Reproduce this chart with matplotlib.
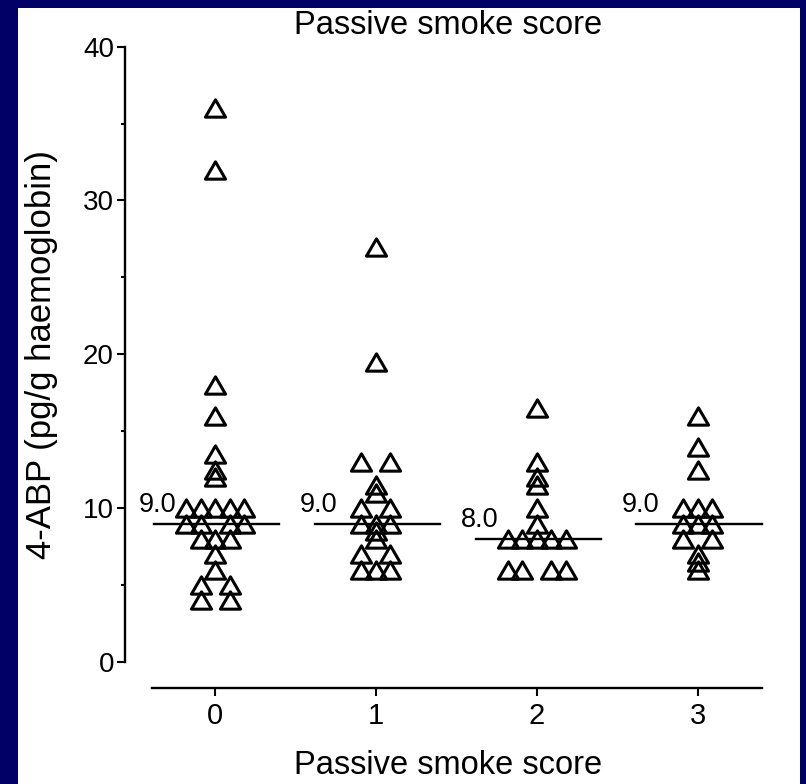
import matplotlib
matplotlib.use("Agg")
import matplotlib.pyplot as plt
import numpy as np
from matplotlib.path import Path
from matplotlib.patches import Rectangle

# 4-ABP adduct levels (pg/g haemoglobin) by passive smoke score
scores = [0, 1, 2, 3]
tick_labels = ["0", "1", "2", "3"]
abp_score0 = [36, 32, 18, 16, 13.5, 12.5, 12, 10, 10, 10, 10, 10,
              9, 9, 9, 9, 8, 8, 8, 7, 6, 5, 5, 4, 4]
abp_score1 = [27, 19.5, 13, 13, 11.5, 11, 10, 10, 9, 9, 9, 8.5, 8,
              7, 7, 6, 6, 6]
abp_score2 = [16.5, 13, 12, 11.5, 10, 9, 8, 8, 8, 8, 8, 6, 6, 6, 6]
abp_score3 = [16, 14, 12.5, 10, 10, 10, 9, 9, 9, 8, 8, 7, 6.5, 6]
medians = [9.0, 9.0, 8.0, 9.0]

title = "Passive smoke score"
xlabel = "Passive smoke score"
ylabel = "4-ABP (pg/g haemoglobin)"

FONT = ["Liberation Sans", "DejaVu Sans"]
BG = "#000066"
W, H = 806, 784


def column_offsets(values, step):
    """Spread identical values sideways in slots around the column centre."""
    vals = np.asarray(values, float)
    offs = np.zeros_like(vals)
    for v in np.unique(vals):
        idx = np.flatnonzero(vals == v)
        n = len(idx)
        ks = [s * k for k in range(1, n // 2 + 1) for s in (-1, 1)]
        if n % 2:
            ks = [0] + ks
        offs[idx] = np.array(ks[:n], float) * step
    return offs


# open triangle marker, a little wider than tall
tri = Path([(-1, -0.86), (1, -0.86), (0, 0.86), (-1, -0.86)],
           [Path.MOVETO, Path.LINETO, Path.LINETO, Path.CLOSEPOLY])

fig = plt.figure(figsize=(W / 100, H / 100), dpi=100, facecolor=BG)
fig.patches.append(Rectangle((18 / W, 0), (800 - 18) / W, (H - 8) / H,
                             transform=fig.transFigure, facecolor="white",
                             edgecolor="none", zorder=-10))

ax = fig.add_axes([125 / W, (H - 688) / H, (770 - 125) / W, (688 - 42) / H])
ax.set_facecolor("none")
ax.set_xlim(-0.56, 3.45)
ax.set_ylim(-1.69, 40.3)

groups = [abp_score0, abp_score1, abp_score2, abp_score3]
for x0, vals, med in zip(scores, groups, medians):
    xs = x0 + column_offsets(vals, 0.09)
    ax.plot(xs, vals, linestyle="none", marker=tri, markersize=14.5,
            markerfacecolor="none", markeredgecolor="black",
            markeredgewidth=2.2, clip_on=False)
    ax.plot([x0 - 0.38, x0 + 0.40], [med, med], color="black", lw=1.7)
    ax.annotate(f"{med:.1f}", xy=(x0 - 0.24, med), xytext=(0, 4),
                textcoords="offset points", ha="right", va="bottom",
                fontsize=19.5, family=FONT)

for side in ("top", "right"):
    ax.spines[side].set_visible(False)
ax.spines["left"].set_bounds(0, 40)
ax.spines["bottom"].set_bounds(-0.39, 3.40)
for side in ("left", "bottom"):
    ax.spines[side].set_linewidth(1.7)

ax.set_yticks([0, 10, 20, 30, 40])
ax.set_yticks([5, 15, 25, 35], minor=True)
ax.set_xticks(scores)
ax.set_xticklabels(tick_labels)
ax.tick_params(axis="y", which="major", direction="out", length=6,
               width=1.5, labelsize=20, pad=2)
ax.tick_params(axis="x", which="major", direction="out", length=6,
               width=1.5, labelsize=21, pad=4)
ax.tick_params(axis="y", which="minor", direction="out", length=3, width=1.5)
ax.tick_params(axis="x", which="minor", length=0)
for lab in ax.get_xticklabels() + ax.get_yticklabels():
    lab.set_family(FONT)

fig.text(448 / W, 1 - 25 / H, title, ha="center", va="center",
         fontsize=23.5, family=FONT)
fig.text(448 / W, 1 - 765 / H, xlabel, ha="center", va="center",
         fontsize=23.5, family=FONT)
fig.text(42 / W, 1 - 355 / H, ylabel, ha="center", va="center",
         rotation=90, fontsize=25, family=FONT)

fig.savefig("out.png", dpi=100, facecolor=BG)
